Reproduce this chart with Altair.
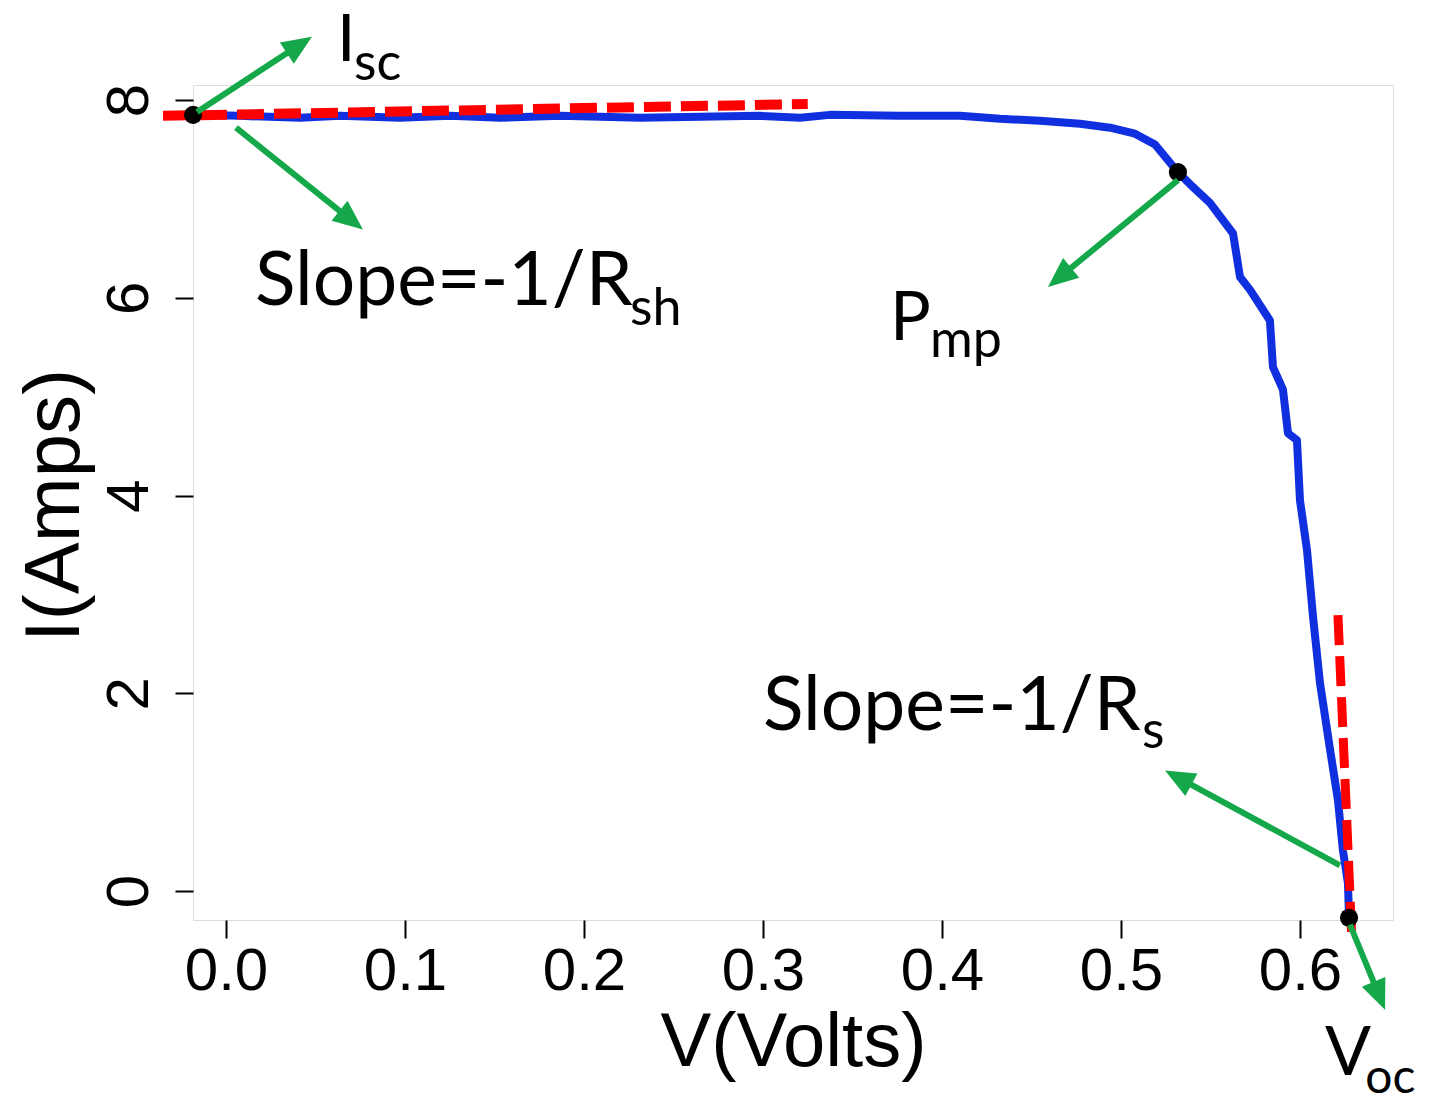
import math
import altair as alt
import pandas as pd

# ---------------- data ----------------
curve_v = [-0.0184, 0.0078, 0.0413, 0.0637, 0.0972, 0.1251, 0.1531, 0.1866, 0.2313,
           0.2648, 0.2983, 0.3207, 0.3374, 0.3765, 0.4101, 0.4324, 0.4547, 0.4771,
           0.4939, 0.5078, 0.5190, 0.5318, 0.5402, 0.5497, 0.5626, 0.5665, 0.5721,
           0.5832, 0.5849, 0.5905, 0.5933, 0.5983, 0.6000, 0.6039, 0.6073, 0.6112,
           0.6168, 0.6212, 0.6240, 0.6268, 0.6274]
curve_i = [7.85, 7.84, 7.82, 7.84, 7.82, 7.84, 7.82, 7.84, 7.82,
           7.83, 7.84, 7.82, 7.85, 7.84, 7.84, 7.81, 7.79, 7.76,
           7.72, 7.66, 7.55, 7.27, 7.12, 6.96, 6.65, 6.21, 6.08,
           5.77, 5.30, 5.07, 4.63, 4.56, 3.95, 3.45, 2.77, 2.10,
           1.43, 0.92, 0.41, 0.08, -0.27]

key_names = ["Isc", "Pmp", "Voc"]
key_v = [-0.0184, 0.5318, 0.6274]
key_i = [7.85, 7.27, -0.27]

rsh_v = [-0.0352, 0.325]
rsh_i = [7.84, 7.96]
rs_v = [0.6212, 0.6290]
rs_i = [2.79, -0.50]

arrow_names = ["Isc", "Rsh", "Pmp", "Rs", "Voc"]
arrow_v0 = [-0.0162, 0.0056, 0.5318, 0.6223, 0.6279]
arrow_i0 = [7.88, 7.72, 7.19, 0.26, -0.34]
arrow_v1 = [0.0480, 0.0765, 0.4592, 0.5246, 0.6475]
arrow_i1 = [8.64, 6.69, 6.11, 1.22, -1.20]

label_text = ["Slope=-1/R", "Slope=-1/R", "P", "I", "V"]
label_v = [0.0162, 0.3000, 0.3709, 0.0620, 0.6140]
label_i = [5.93, 1.63, 5.57, 8.39, -1.86]
label_size = [75, 75, 68, 66, 68]

sub_text = ["sh", "s", "mp", "sc", "oc"]
sub_v = [0.2257, 0.5117, 0.3933, 0.0715, 0.6365]
sub_i = [5.72, 1.45, 5.40, 8.20, -2.04]
sub_size = [52, 52, 52, 52, 48]

x_ticks = [0.0, 0.1, 0.2, 0.3, 0.4, 0.5, 0.6]
y_ticks = [0, 2, 4, 6, 8]

# ---------------- layout ----------------
W, H = 1200, 835
XDOM = [-0.01844, 0.65196]
YDOM = [-0.293, 8.152]
sx = W / (XDOM[1] - XDOM[0])
sy = H / (YDOM[1] - YDOM[0])

BLUE = "#1030e0"
RED = "#ff0000"
GREEN = "#14a84a"

xs = alt.Scale(domain=XDOM, nice=False, zero=False)
ys = alt.Scale(domain=YDOM, nice=False, zero=False)

x_axis = alt.Axis(values=x_ticks, format=".1f", labelFont="Liberation Sans", labelFontSize=60,
                  labelColor="black", tickColor="black", tickSize=18, tickWidth=2,
                  domain=False, grid=False, labelPadding=4, labelFlush=False, labelOverlap=False,
                  title="V(Volts)", titleFont="Liberation Sans", titleFontSize=76,
                  titleFontWeight="normal", titleColor="black", titleX=W / 2, titleY=145,
                  titleAlign="center", titleBaseline="alphabetic")
y_axis = alt.Axis(values=y_ticks, format="d", labelFont="Liberation Sans", labelFontSize=60,
                  labelColor="black", tickColor="black", tickSize=18, tickWidth=2,
                  domain=False, grid=False, labelAngle=270, labelAlign="center",
                  labelBaseline="alphabetic", labelPadding=28, labelFlush=False, labelOverlap=False,
                  title="I(Amps)", titleFont="Liberation Sans", titleFontSize=78,
                  titleFontWeight="normal", titleColor="black", titleAngle=270,
                  titleX=-115, titleY=420, titleAlign="center", titleBaseline="alphabetic")

curve_df = pd.DataFrame({"v": curve_v, "i": curve_i, "k": list(range(len(curve_v)))})
curve = alt.Chart(curve_df).mark_line(color=BLUE, strokeWidth=8, strokeJoin="round").encode(
    x=alt.X("v:Q", scale=xs, axis=x_axis),
    y=alt.Y("i:Q", scale=ys, axis=y_axis),
    order="k:O",
)

rsh_df = pd.DataFrame({"v": rsh_v, "i": rsh_i})
rsh = alt.Chart(rsh_df).mark_line(color=RED, strokeWidth=10, strokeDash=[27, 10]).encode(
    x=alt.X("v:Q", scale=xs), y=alt.Y("i:Q", scale=ys))
rs_df = pd.DataFrame({"v": rs_v, "i": rs_i})
rs = alt.Chart(rs_df).mark_line(color=RED, strokeWidth=9, strokeDash=[30, 11]).encode(
    x=alt.X("v:Q", scale=xs), y=alt.Y("i:Q", scale=ys))

pts_df = pd.DataFrame({"name": key_names, "v": key_v, "i": key_i})
pts = alt.Chart(pts_df).mark_point(shape="circle", filled=True, color="black", size=330, opacity=1).encode(
    x=alt.X("v:Q", scale=xs), y=alt.Y("i:Q", scale=ys))

# arrows: shaft shortened a little so the head covers its end; head angle from screen direction
rows = []
for n, a, b, c, d in zip(arrow_names, arrow_v0, arrow_i0, arrow_v1, arrow_i1):
    dxp = (c - a) * sx
    dyp = -(d - b) * sy
    L = math.hypot(dxp, dyp)
    f = max(0.0, 1 - 16 / L)
    ang = math.degrees(math.atan2(dxp, -dyp)) % 360
    rows.append({"name": n, "v0": a, "i0": b, "v1": c, "i1": d,
                 "vs": a + (c - a) * f, "is": b + (d - b) * f, "ang": ang})
arr_df = pd.DataFrame(rows)
shafts = alt.Chart(arr_df).mark_rule(color=GREEN, strokeWidth=6).encode(
    x=alt.X("v0:Q", scale=xs), y=alt.Y("i0:Q", scale=ys), x2="vs:Q", y2="is:Q")
heads = alt.Chart(arr_df).mark_point(shape="M0,0 L0.85,2 L-0.85,2 Z", filled=True, color=GREEN,
                                     size=900, opacity=1).encode(
    x=alt.X("v1:Q", scale=xs), y=alt.Y("i1:Q", scale=ys), angle=alt.Angle("ang:Q", scale=None))

lab_df = pd.DataFrame({"t": label_text, "v": label_v, "i": label_i, "s": label_size})
labels = alt.Chart(lab_df).mark_text(font="Lato", align="left", baseline="alphabetic", color="black").encode(
    x=alt.X("v:Q", scale=xs), y=alt.Y("i:Q", scale=ys), text="t:N", size=alt.Size("s:Q", scale=None))
sub_df = pd.DataFrame({"t": sub_text, "v": sub_v, "i": sub_i, "s": sub_size})
subs = alt.Chart(sub_df).mark_text(font="Lato", align="left", baseline="alphabetic", color="black").encode(
    x=alt.X("v:Q", scale=xs), y=alt.Y("i:Q", scale=ys), text="t:N", size=alt.Size("s:Q", scale=None))

chart = alt.layer(curve, rsh, rs, pts, shafts, heads, labels, subs).properties(
    width=W, height=H,
    padding={"left": 185, "top": 77, "right": 28, "bottom": 178},
    autosize="none",
).configure_view(stroke="#222222", strokeWidth=2).configure(background="white")

chart.save("out.html", embed_options={"renderer": "svg", "actions": False})
